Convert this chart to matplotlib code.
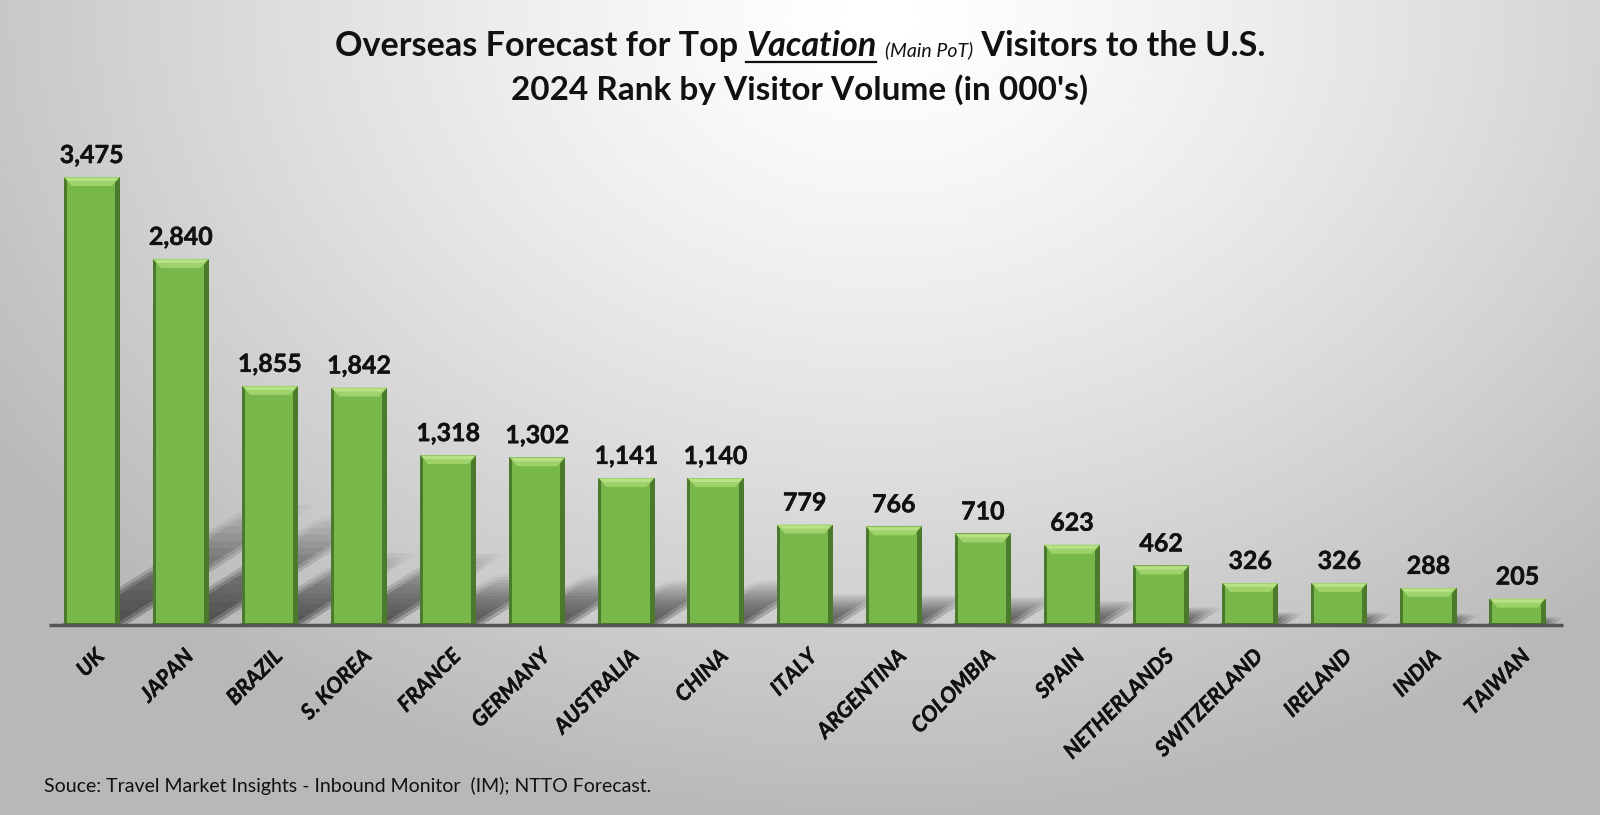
import numpy as np
import matplotlib.pyplot as plt
import matplotlib.patheffects as pe
from matplotlib.patches import Polygon, Rectangle
from matplotlib.lines import Line2D

countries = ['UK', 'JAPAN', 'BRAZIL', 'S. KOREA', 'FRANCE', 'GERMANY', 'AUSTRALIA',
             'CHINA', 'ITALY', 'ARGENTINA', 'COLOMBIA', 'SPAIN', 'NETHERLANDS',
             'SWITZERLAND', 'IRELAND', 'INDIA', 'TAIWAN']
visitors = [3475, 2840, 1855, 1842, 1318, 1302, 1141, 1140, 779, 766, 710, 623,
            462, 326, 326, 288, 205]

title_line1 = [('Overseas Forecast for Top ', 'normal', 'bold', 24.6),
               ('Vacation', 'italic', 'bold', 24.6),
               (' ', 'normal', 'bold', 24.6),
               ('(Main PoT)', 'italic', 'normal', 14),
               (' Visitors to the U.S.', 'normal', 'bold', 24.6)]
title_line2 = "2024 Rank by Visitor Volume (in 000's)"
source_note = 'Souce: Travel Market Insights - Inbound Monitor  (IM); NTTO Forecast.'

plt.rcParams['font.family'] = ['Lato', 'DejaVu Sans']

W, H = 1600, 815
fig = plt.figure(figsize=(16, 8.15), dpi=100)

# background gradient (light in the top middle, grey towards the edges)
bg = fig.add_axes([0, 0, 1, 1], zorder=-10)
yy, xx = np.mgrid[0:1:300j, 0:1:600j]
r = np.sqrt(((xx - 0.55) * 1.5) ** 2 + (yy - 0.02) ** 2)
shade = 1.0 - 0.28 * np.clip(r, 0, 1) ** 1.3
bg.imshow(shade, cmap='gray', vmin=0, vmax=1, extent=[0, 1, 0, 1],
          aspect='auto', origin='upper')
bg.axis('off')

# main axes
ax_l, ax_b = 49 / W, 190 / H
ax_w, ax_h = (1563 - 49) / W, 495 / H
ax = fig.add_axes([ax_l, ax_b, ax_w, ax_h])
ax.set_facecolor('none')
xmin, xmax = -0.48, 16.51
ymax = 3840
ax.set_xlim(xmin, xmax)
ax.set_ylim(0, ymax)
for s in ax.spines.values():
    s.set_visible(False)
ax.set_xticks([])
ax.set_yticks([])

xpx = ax_w * W / (xmax - xmin)   # pixels per x unit
ypx = ax_h * H / ymax            # pixels per y unit


def px(p):
    return p / xpx


def py(p):
    return p / ypx


bw = 0.63
main_c = '#78b74a'
edge_c = '#4c7a2c'
light_c = '#9fd26b'
thick = [pe.withStroke(linewidth=0.3, foreground='#111111')]

for i, (c, v) in enumerate(zip(countries, visitors)):
    xl, xr = i - bw / 2, i + bw / 2
    # soft perspective shadow, up and to the right (stacked layers fake a blur)
    L = min(0.3 * v * ypx, 120)
    n = 14
    for k in range(1, n + 1):
        dy = L * (k / n) ** 0.8
        dx = dy / 0.63
        for grow in (0, 6, 12):
            a, b = xl + px(8 - grow), xr - px(6 - grow)
            ax.add_patch(Polygon([(a, 0), (b, 0), (b + px(dx), py(dy)), (a + px(dx), py(dy))],
                                 closed=True, facecolor='black', edgecolor='none',
                                 alpha=0.017, zorder=1))
    ax.add_patch(Rectangle((xl, 0), bw, v, facecolor=edge_c, edgecolor='none', zorder=3))
    ax.add_patch(Rectangle((xl + px(3), py(2)), bw - px(8), v - py(4),
                           facecolor=main_c, edgecolor='none', zorder=4))
    ax.add_patch(Polygon([(xl, v), (xr, v), (xr - px(8), v - py(9)), (xl + px(8), v - py(9))],
                         closed=True, facecolor=light_c, edgecolor='none', zorder=5))
    ax.add_patch(Polygon([(xl + px(2), v - py(1)), (xr - px(2), v - py(1)),
                          (xr - px(5), v - py(4)), (xl + px(5), v - py(4))],
                         closed=True, facecolor='#b8e286', edgecolor='none', zorder=6))
    ax.text(i, v + py(14), f'{v:,}', ha='center', va='baseline', fontsize=18,
            fontweight='bold', color='#111111', path_effects=thick)
    ax.text(i + px(9), -py(28), c, rotation=45, ha='right', va='center',
            rotation_mode='anchor', fontsize=15.5, fontweight='bold',
            fontstyle='italic', color='#111111', clip_on=False, path_effects=thick)

ax.plot([xmin, xmax], [0, 0], color='#555555', lw=2.5, zorder=7, clip_on=False,
        solid_capstyle='butt')

# title line 1 built from pieces
texts = []
for s, st, wt, sz in title_line1:
    texts.append(fig.text(0, 1 - 56 / H, s, fontsize=sz, fontstyle=st, fontweight=wt,
                          va='baseline', ha='left', color='#111111'))
fig.canvas.draw()
rend = fig.canvas.get_renderer()
widths = [t.get_window_extent(rend).width for t in texts]
x0 = 0.5 - sum(widths) / W / 2
for t, wdt in zip(texts, widths):
    t.set_x(x0)
    if t.get_text() == 'Vacation':
        fig.add_artist(Line2D([x0, x0 + wdt / W], [1 - 62 / H] * 2, color='#111111', lw=1.6))
    x0 += wdt / W

fig.text(0.5, 1 - 100 / H, title_line2, ha='center', va='baseline', fontsize=24,
         fontweight='bold', color='#111111')
fig.text(44 / W, 1 - 792 / H, source_note, ha='left', va='baseline', fontsize=14,
         color='#111111')

fig.savefig('out.png', dpi=100)
